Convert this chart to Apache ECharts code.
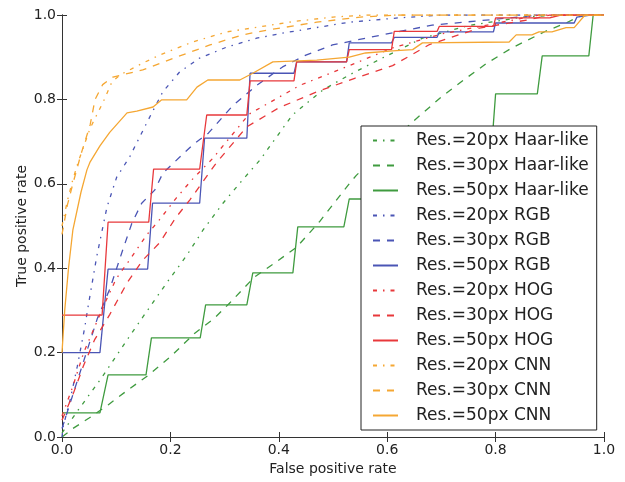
<!DOCTYPE html>
<html>
<head>
<meta charset="utf-8">
<script src="https://cdn.jsdelivr.net/npm/echarts@6/dist/echarts.min.js"></script>
<style>
html,body{margin:0;padding:0;background:#fff;}
#chart{width:625px;height:482px;}
</style>
</head>
<body>
<div id="chart"></div>
<script>
// ---- data ----
var seriesNames = [
  'Res.=20px Haar-like','Res.=30px Haar-like','Res.=50px Haar-like',
  'Res.=20px RGB','Res.=30px RGB','Res.=50px RGB',
  'Res.=20px HOG','Res.=30px HOG','Res.=50px HOG',
  'Res.=20px CNN','Res.=30px CNN','Res.=50px CNN'
];
var xTickLabels = ['0.0','0.2','0.4','0.6','0.8','1.0'];
var yTickLabels = ['0.0','0.2','0.4','0.6','0.8','1.0'];

var haar20 = [[0,0.01],[0.03,0.064],[0.074,0.142],[0.12,0.23],[0.149,0.284],[0.193,0.365],[0.23,0.43],[0.26,0.49],[0.297,0.554],[0.333,0.609],[0.365,0.656],[0.425,0.763],[0.481,0.822],[0.53,0.858],[0.591,0.898],[0.665,0.945],[0.75,0.975],[0.85,0.995],[0.92,1.0],[1,1]];
var haar30 = [[0,0],[0.02,0.02],[0.05,0.045],[0.085,0.076],[0.12,0.11],[0.158,0.145],[0.2,0.19],[0.245,0.246],[0.28,0.28],[0.309,0.317],[0.355,0.379],[0.39,0.41],[0.433,0.45],[0.475,0.51],[0.53,0.60],[0.543,0.62],[0.6,0.69],[0.647,0.747],[0.70,0.806],[0.74,0.845],[0.783,0.885],[0.83,0.922],[0.893,0.962],[0.93,0.981],[0.96,1.0],[1,1]];
var haar50 = [[0,0.057],[0.07,0.057],[0.085,0.147],[0.155,0.147],[0.165,0.235],[0.255,0.235],[0.265,0.313],[0.341,0.313],[0.352,0.389],[0.426,0.389],[0.435,0.498],[0.52,0.498],[0.53,0.564],[0.65,0.564],[0.66,0.64],[0.79,0.64],[0.80,0.813],[0.877,0.813],[0.886,0.903],[0.972,0.903],[0.98,1.0],[1,1]];
var rgb20 = [[0,0.0],[0.002,0.024],[0.015,0.088],[0.028,0.166],[0.042,0.26],[0.048,0.308],[0.064,0.427],[0.083,0.545],[0.101,0.616],[0.125,0.664],[0.157,0.746],[0.186,0.818],[0.217,0.865],[0.254,0.898],[0.304,0.924],[0.359,0.945],[0.407,0.957],[0.53,0.983],[0.62,0.993],[0.7,1.0],[1,1]];
var rgb30 = [[0,0.02],[0.02,0.1],[0.045,0.2],[0.065,0.28],[0.088,0.35],[0.112,0.443],[0.129,0.507],[0.147,0.554],[0.171,0.585],[0.186,0.625],[0.208,0.652],[0.241,0.692],[0.27,0.72],[0.315,0.785],[0.36,0.834],[0.407,0.877],[0.45,0.905],[0.499,0.929],[0.591,0.953],[0.683,0.976],[0.8,0.99],[0.88,1.0],[1,1]];
var rgb50 = [[0,0.2],[0.07,0.2],[0.085,0.398],[0.158,0.398],[0.167,0.554],[0.254,0.554],[0.263,0.708],[0.341,0.708],[0.347,0.862],[0.428,0.862],[0.433,0.889],[0.525,0.889],[0.53,0.934],[0.608,0.934],[0.613,0.947],[0.692,0.947],[0.696,0.96],[0.796,0.96],[0.80,0.981],[0.945,0.981],[0.95,0.995],[0.975,1.0],[1,1]];
var hog20 = [[0,0.05],[0.02,0.12],[0.04,0.2],[0.06,0.26],[0.08,0.32],[0.1,0.375],[0.125,0.42],[0.157,0.48],[0.18,0.515],[0.21,0.565],[0.24,0.61],[0.278,0.66],[0.31,0.71],[0.345,0.765],[0.44,0.834],[0.53,0.88],[0.61,0.922],[0.7,0.955],[0.8,0.98],[0.88,1.0],[1,1]];
var hog30 = [[0,0.04],[0.02,0.1],[0.04,0.17],[0.06,0.23],[0.088,0.29],[0.12,0.365],[0.149,0.419],[0.18,0.46],[0.21,0.52],[0.236,0.562],[0.285,0.65],[0.341,0.735],[0.4,0.78],[0.47,0.818],[0.54,0.85],[0.61,0.88],[0.678,0.93],[0.77,0.969],[0.862,0.989],[0.9,1.0],[1,1]];
var hog50 = [[0,0.289],[0.074,0.289],[0.085,0.509],[0.16,0.509],[0.169,0.635],[0.254,0.635],[0.267,0.763],[0.341,0.763],[0.347,0.844],[0.428,0.844],[0.433,0.889],[0.525,0.889],[0.53,0.918],[0.608,0.918],[0.613,0.961],[0.692,0.961],[0.696,0.973],[0.796,0.973],[0.80,0.993],[0.9,0.993],[0.92,1.0],[1,1]];
var cnn20 = [[0,0.5],[0.01,0.56],[0.02,0.61],[0.03,0.652],[0.052,0.732],[0.076,0.794],[0.092,0.841],[0.107,0.858],[0.149,0.886],[0.18,0.905],[0.241,0.936],[0.304,0.96],[0.365,0.972],[0.43,0.985],[0.5,0.995],[0.56,1.0],[1,1]];
var cnn30 = [[0,0.48],[0.01,0.55],[0.02,0.6],[0.035,0.67],[0.052,0.74],[0.061,0.8],[0.075,0.835],[0.094,0.853],[0.149,0.87],[0.211,0.9],[0.273,0.929],[0.333,0.953],[0.378,0.964],[0.47,0.983],[0.55,0.995],[0.62,1.0],[1,1]];
var cnn50 = [[0,0.2],[0.005,0.3],[0.012,0.4],[0.02,0.49],[0.035,0.58],[0.046,0.633],[0.052,0.652],[0.07,0.69],[0.088,0.722],[0.12,0.768],[0.138,0.772],[0.168,0.782],[0.184,0.799],[0.23,0.799],[0.249,0.829],[0.269,0.846],[0.328,0.846],[0.352,0.862],[0.389,0.889],[0.47,0.893],[0.53,0.90],[0.56,0.91],[0.61,0.915],[0.647,0.918],[0.665,0.934],[0.825,0.936],[0.838,0.953],[0.867,0.953],[0.88,0.96],[0.904,0.96],[0.93,0.97],[0.945,0.97],[0.965,1.0],[1,1]];

var seriesData = [haar20,haar30,haar50,rgb20,rgb30,rgb50,hog20,hog30,hog50,cnn20,cnn30,cnn50];

// ---- styles ----
var colors = {haar:'#3f9b3f', rgb:'#4a55b5', hog:'#e8383b', cnn:'#f5a733'};
var seriesColors = [colors.haar,colors.haar,colors.haar,colors.rgb,colors.rgb,colors.rgb,colors.hog,colors.hog,colors.hog,colors.cnn,colors.cnn,colors.cnn];
var dashDot = [4,6,1.5,6], dashed = [7,7];
var seriesDash = [dashDot,dashed,'solid',dashDot,dashed,'solid',dashDot,dashed,'solid',dashDot,dashed,'solid'];

var FONT = 'DejaVu Sans';
var frame = '#333';

var series = seriesNames.map(function(name,i){
  return {
    name: name, type:'line', data: seriesData[i],
    symbol:'none', showSymbol:false, smooth:false, animation:false,
    color: seriesColors[i],
    lineStyle:{color: seriesColors[i], width:1.3, type: seriesDash[i]}
  };
});

function tickFmt(labels){ return function(v){ var k=Math.round(v/0.2); return labels[k]!==undefined?labels[k]:''; }; }

var baseAxis = {
  type:'value', min:0, max:1, interval:0.2,
  axisLine:{show:true, lineStyle:{color:frame, width:1}},
  axisTick:{show:true, inside:true, length:5, lineStyle:{color:frame}},
  splitLine:{show:false}
};

var option = {
  animation:false,
  backgroundColor:'#fff',
  grid:{left:62, right:21, top:15, bottom:45, containLabel:false},
  xAxis:[
    Object.assign({}, baseAxis, {
      position:'bottom',
      name:'False positive rate', nameLocation:'middle', nameGap:25,
      nameTextStyle:{fontFamily:FONT, fontSize:14, color:'#222'},
      axisLabel:{formatter:tickFmt(xTickLabels), fontFamily:FONT, fontSize:14, color:'#222', margin:6}
    }),
    Object.assign({}, baseAxis, {position:'top', axisLabel:{show:false}})
  ],
  yAxis:[
    Object.assign({}, baseAxis, {
      position:'left',
      name:'True positive rate', nameLocation:'middle', nameGap:33, nameRotate:90,
      nameMoveOverlap:false,
      nameTextStyle:{fontFamily:FONT, fontSize:14, color:'#222'},
      axisLabel:{formatter:tickFmt(yTickLabels), fontFamily:FONT, fontSize:14, color:'#222', margin:6}
    }),
    Object.assign({}, baseAxis, {position:'right', axisLabel:{show:false}})
  ],
  legend:{
    orient:'vertical', left:361, top:126,
    padding:[6,8,6,11],
    itemWidth:25, itemHeight:14, itemGap:8,
    backgroundColor:'#fff', borderColor:'#222', borderWidth:1, borderRadius:0,
    itemStyle:{opacity:0, borderWidth:0},
    textStyle:{fontFamily:FONT, fontSize:17, color:'#222', padding:[0,0,0,13]},
    data: seriesNames
  },
  series: series
};

var chart = echarts.init(document.getElementById('chart'), null, {renderer:'canvas'});
chart.setOption(option);
</script>
</body>
</html>
